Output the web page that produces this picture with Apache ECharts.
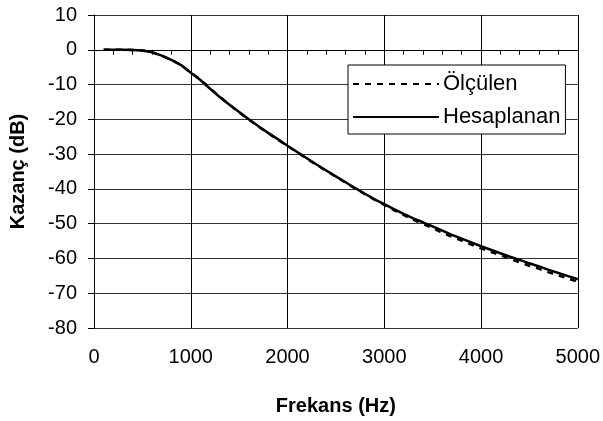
<!DOCTYPE html>
<html>
<head>
<meta charset="utf-8">
<script src="https://cdn.jsdelivr.net/npm/echarts@6/dist/echarts.min.js"></script>
<style>html,body{margin:0;padding:0;background:#fff}#c{width:603px;height:421px}</style>
</head>
<body>
<div id="c"></div>
<script>
const freqs = [100,200,300,400,500,600,700,800,900,1000,1100,1200,1300,1400,1500,1600,1700,1800,1900,2000,2100,2200,2300,2400,2500,2600,2700,2800,2900,3000,3100,3200,3300,3400,3500,3600,3700,3800,3900,4000,4100,4200,4300,4400,4500,4600,4700,4800,4900,5000];
const olculen = [0,0,0,-0.05,-0.2,-0.7,-1.7,-2.9,-4.4,-6.5,-8.6,-11.1,-13.5,-15.8,-18.0,-20.1,-22.1,-24.0,-25.9,-27.7,-29.5,-31.3,-33.1,-34.8,-36.5,-38.2,-39.9,-41.5,-43.1,-44.6,-46.1,-47.5,-48.9,-50.1,-51.3,-52.6,-53.8,-54.9,-56.0,-57.1,-58.1,-59.1,-60.1,-61.1,-62.1,-63.0,-64.0,-64.9,-65.8,-66.7];
const hesaplanan = [0,0,0,-0.05,-0.2,-0.7,-1.7,-2.9,-4.4,-6.6,-8.7,-11.2,-13.6,-15.8,-17.9,-20.0,-22.0,-23.9,-25.7,-27.6,-29.4,-31.2,-33.0,-34.7,-36.4,-38.1,-39.8,-41.4,-43.0,-44.4,-45.8,-47.2,-48.5,-49.6,-50.8,-52.0,-53.2,-54.3,-55.4,-56.5,-57.5,-58.5,-59.5,-60.4,-61.4,-62.3,-63.3,-64.2,-65.1,-66.0];
const xTicks = [0,1000,2000,3000,4000,5000];
const yTicks = [10,0,-10,-20,-30,-40,-50,-60,-70,-80];
const seriesNames = ['Ölçülen','Hesaplanan'];

const font = 'Arial, "Liberation Sans", sans-serif';
const chart = echarts.init(document.getElementById('c'), null, {renderer:'canvas'});
chart.setOption({
  animation:false,
  backgroundColor:'#fff',
  grid:{left:87, right:24, top:15, bottom:84, containLabel:false},
  legend:{
    orient:'vertical', left:348, top:65,
    padding:[8,5,6,4], itemGap:11, itemWidth:86, itemHeight:18,
    backgroundColor:'#fff', borderColor:'#000', borderWidth:1,
    itemStyle:{opacity:0},
    textStyle:{fontFamily:font, fontSize:22, color:'#000', padding:[0,0,0,-1]},
    data:seriesNames
  },
  xAxis:[{
    type:'value', min:xTicks[0], max:xTicks[xTicks.length-1], interval:1000,
    position:'bottom',
    axisLine:{show:false, onZero:false}, axisTick:{show:false},
    axisLabel:{fontFamily:font, fontSize:20, color:'#000', margin:19, formatter:v=>String(v)},
    splitLine:{show:true, lineStyle:{color:'#000', width:1}},
    name:'Frekans (Hz)', nameLocation:'middle', nameGap:68,
    nameTextStyle:{fontFamily:font, fontSize:20, fontWeight:'bold', color:'#000'}
  },{
    type:'value', min:0, max:5000, interval:200, position:'bottom',
    axisLine:{show:true, onZero:true, lineStyle:{color:'#000', width:1}},
    axisTick:{show:true, inside:false, length:5, lineStyle:{color:'#000'}},
    axisLabel:{show:false}, splitLine:{show:false}
  }],
  yAxis:{
    type:'value', min:yTicks[yTicks.length-1], max:yTicks[0], interval:10,
    axisLine:{show:true, onZero:false, lineStyle:{color:'#000', width:1}},
    axisTick:{show:true, inside:false, length:6, lineStyle:{color:'#000'}},
    axisLabel:{fontFamily:font, fontSize:20, color:'#000', margin:17, formatter:v=>String(v)},
    splitLine:{show:true, lineStyle:{color:'#333', width:1}},
    name:'Kazanç (dB)', nameLocation:'middle', nameGap:66,
    nameTextStyle:{fontFamily:font, fontSize:20, fontWeight:'bold', color:'#000'}
  },
  series:[{
    name:seriesNames[0], type:'line', xAxisIndex:0, symbol:'none', smooth:false,
    data:freqs.map((f,i)=>[f,olculen[i]]),
    lineStyle:{color:'#000', width:2.5, type:[6,6]}, itemStyle:{color:'#000'}, z:3
  },{
    name:seriesNames[1], type:'line', xAxisIndex:0, symbol:'none', smooth:false,
    data:freqs.map((f,i)=>[f,hesaplanan[i]]),
    lineStyle:{color:'#000', width:2.5, type:'solid'}, itemStyle:{color:'#000'}, z:4
  }]
});
</script>
</body>
</html>
